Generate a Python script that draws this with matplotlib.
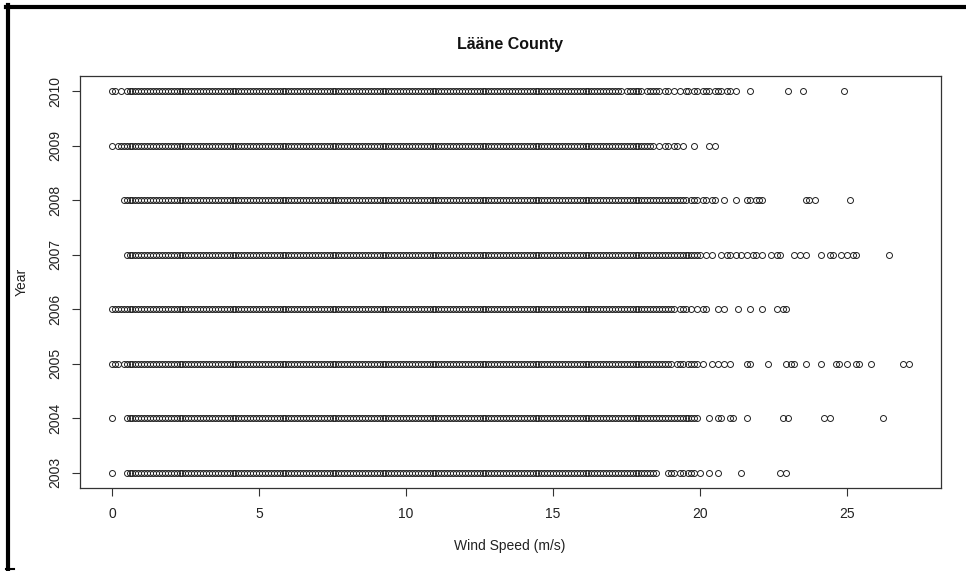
import numpy as np
import matplotlib.pyplot as plt
from matplotlib.lines import Line2D

plt.rcParams['font.family'] = ['Liberation Sans', 'DejaVu Sans']

years = [2003, 2004, 2005, 2006, 2007, 2008, 2009, 2010]

# wind speed is logged in 0.1 m/s steps; every step between run_start and
# run_end occurs at least once in that year
run_start = [0.5, 0.6, 0.4, 0.1, 0.5, 0.4, 0.2, 0.5]
run_end = [18.5, 19.9, 18.6, 18.6, 19.9, 19.3, 18.2, 17.3]

# isolated readings outside the continuous run
extra_2003 = [0.0, 18.9, 19.0, 19.1, 19.3, 19.4, 19.6, 19.7, 19.8, 20.0,
              20.3, 20.6, 21.4, 22.7, 22.9]
extra_2004 = [0.0, 0.5, 20.3, 20.6, 20.7, 21.0, 21.1, 21.6, 22.8, 23.0,
              24.2, 24.4, 26.2]
extra_2005 = [0.0, 0.1, 0.2, 18.7, 18.8, 18.9, 19.0, 19.2, 19.3, 19.4,
              19.6, 19.7, 19.8, 19.9, 20.1, 20.4, 20.6, 20.8, 21.0, 21.6,
              21.7, 22.3, 22.9, 23.1, 23.2, 23.6, 24.1, 24.6, 24.7, 25.0,
              25.3, 25.4, 25.8, 26.9, 27.1]
extra_2006 = [0.0, 18.7, 18.8, 18.9, 19.0, 19.1, 19.3, 19.4, 19.5, 19.7,
              19.9, 20.1, 20.2, 20.6, 20.8, 21.3, 21.7, 22.1, 22.6, 22.8,
              22.9]
extra_2007 = [20.0, 20.2, 20.4, 20.7, 20.9, 21.0, 21.2, 21.4, 21.6, 21.8,
              21.9, 22.1, 22.4, 22.6, 22.7, 23.2, 23.4, 23.6, 24.1, 24.4,
              24.5, 24.8, 25.0, 25.2, 25.3, 26.4]
extra_2008 = [19.4, 19.5, 19.7, 19.8, 19.9, 20.1, 20.2, 20.4, 20.5, 20.8,
              21.2, 21.6, 21.7, 21.9, 22.0, 22.1, 23.6, 23.7, 23.9, 25.1]
extra_2009 = [0.0, 18.3, 18.4, 18.6, 18.8, 18.9, 19.1, 19.2, 19.4, 19.8,
              20.3, 20.5]
extra_2010 = [0.0, 0.1, 0.3, 17.5, 17.6, 17.7, 17.8, 17.9, 18.0, 18.2,
              18.3, 18.4, 18.5, 18.6, 18.8, 18.9, 19.1, 19.3, 19.5, 19.6,
              19.8, 19.9, 20.1, 20.2, 20.3, 20.5, 20.6, 20.7, 20.9, 21.0,
              21.2, 21.7, 23.0, 23.5, 24.9]
extras = [extra_2003, extra_2004, extra_2005, extra_2006,
          extra_2007, extra_2008, extra_2009, extra_2010]

W, H = 966, 571
fig = plt.figure(figsize=(W / 100, H / 100), dpi=100)
ax = fig.add_axes([80 / W, 1 - 488 / H, (941 - 80) / W, (488 - 76) / H])

all_speeds = []
for year, lo, hi, extra in zip(years, run_start, run_end, extras):
    steps = np.round(np.arange(lo, hi + 0.05, 0.1), 1)
    speeds = np.concatenate([steps, extra])
    all_speeds.append(speeds)
    ax.plot(speeds, np.full(len(speeds), year), 'o', ms=4.3,
            mfc='none', mec='#222222', mew=0.7)

# R-style 4% padding on both axes
all_speeds = np.concatenate(all_speeds)
xmin, xmax = all_speeds.min(), all_speeds.max()
xpad = 0.04 * (xmax - xmin)
ax.set_xlim(xmin - xpad, xmax + xpad)
ypad = 0.04 * (max(years) - min(years))
ax.set_ylim(min(years) - ypad, max(years) + ypad)

ax.set_xticks([0, 5, 10, 15, 20, 25])
ax.set_yticks(years)
ax.set_yticklabels([str(y) for y in years], rotation=90, va='center')
ax.tick_params(axis='x', length=6, width=0.8, pad=8, labelsize=10,
               color='#333333', labelcolor='#222222')
ax.tick_params(axis='y', length=5.5, width=0.8, pad=7, labelsize=10,
               color='#333333', labelcolor='#222222')
for s in ax.spines.values():
    s.set_color('#333333')
    s.set_linewidth(0.9)

fig.text(510 / W, 1 - 44 / H, 'Lääne County', ha='center', va='center',
         fontsize=11.5, fontweight='bold', color='#111111')
fig.text(510 / W, 1 - 546 / H, 'Wind Speed (m/s)', ha='center', va='center',
         fontsize=10, color='#222222')
fig.text(22 / W, 1 - 282 / H, 'Year', ha='center', va='center',
         rotation=90, fontsize=10, color='#222222')

# page frame on top and left
fig.add_artist(Line2D([6 / W, 1.0], [1 - 7 / H] * 2, color='black', lw=3))
fig.add_artist(Line2D([8 / W] * 2, [1 - 5 / H, 1 - 570 / H],
                      color='black', lw=3))
fig.add_artist(Line2D([6 / W, 14 / W], [1 - 569 / H] * 2, color='black', lw=1.5))

fig.savefig('out.png', dpi=100)
